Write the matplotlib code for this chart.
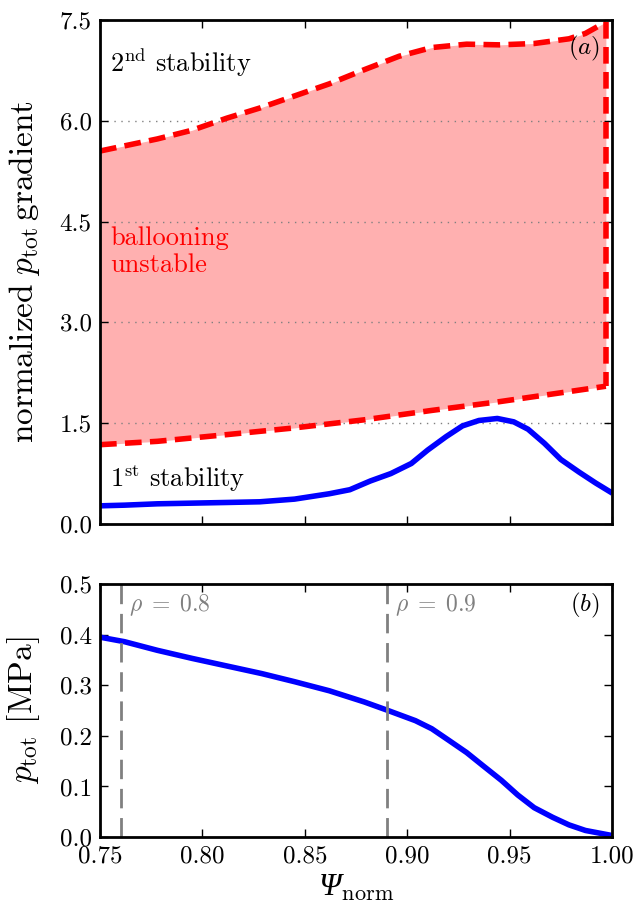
import numpy as np
import matplotlib
matplotlib.use("Agg")
import matplotlib.pyplot as plt
from matplotlib.ticker import FormatStrFormatter

plt.rcParams['font.family'] = ['cmr10', 'DejaVu Serif']
plt.rcParams['mathtext.fontset'] = 'cm'
plt.rcParams['axes.formatter.use_mathtext'] = True
plt.rcParams['axes.unicode_minus'] = False

# upper boundary of the ballooning unstable region
psi_up = [0.750, 0.778, 0.795, 0.812, 0.828, 0.845, 0.862, 0.879, 0.896,
          0.912, 0.929, 0.945, 0.962, 0.979, 0.987, 0.997]
grad_up = [5.55, 5.73, 5.86, 6.04, 6.19, 6.37, 6.55, 6.76, 6.96,
           7.09, 7.14, 7.13, 7.15, 7.22, 7.30, 7.47]

# lower boundary of the ballooning unstable region
psi_lo = [0.750, 0.778, 0.812, 0.845, 0.879, 0.912, 0.945, 0.979, 0.997]
grad_lo = [1.18, 1.23, 1.33, 1.43, 1.55, 1.69, 1.82, 1.97, 2.05]

# actual normalized pressure gradient
psi_g = [0.750, 0.762, 0.778, 0.795, 0.812, 0.828, 0.845, 0.862, 0.872,
         0.882, 0.892, 0.902, 0.910, 0.919, 0.927, 0.935, 0.944, 0.952,
         0.959, 0.967, 0.975, 0.984, 0.992, 0.999]
grad = [0.27, 0.28, 0.30, 0.31, 0.32, 0.33, 0.37, 0.45, 0.51,
        0.64, 0.75, 0.90, 1.10, 1.30, 1.46, 1.54, 1.57, 1.52,
        1.41, 1.20, 0.96, 0.77, 0.61, 0.48]

# total pressure profile
psi_p = [0.750, 0.762, 0.778, 0.795, 0.812, 0.829, 0.845, 0.862, 0.879,
         0.890, 0.904, 0.912, 0.920, 0.929, 0.937, 0.946, 0.954, 0.962,
         0.971, 0.979, 0.987, 1.000]
p_tot = [0.395, 0.386, 0.369, 0.353, 0.338, 0.323, 0.307, 0.289, 0.267,
         0.251, 0.230, 0.214, 0.192, 0.167, 0.141, 0.112, 0.083, 0.058,
         0.039, 0.024, 0.013, 0.003]

rho_psi = [0.760, 0.890]
rho_lab = [r'$\rho\;=\;0.8$', r'$\rho\;=\;0.9$']

fig = plt.figure(figsize=(6.42, 9.17), dpi=100)
ax1 = fig.add_axes([0.1558, 0.4286, 0.7975, 0.5496])
ax2 = fig.add_axes([0.1558, 0.0872, 0.7975, 0.2759])

for ax in (ax1, ax2):
    ax.tick_params(direction='in', top=True, right=True, length=6, width=1,
                   labelsize=18, pad=6)
    for s in ax.spines.values():
        s.set_linewidth(2)

# panel (a)
lo_on_up = np.interp(psi_up, psi_lo, grad_lo)
ax1.fill_between(psi_up, lo_on_up, grad_up, color='#ffb0b0', lw=0)
ax1.plot(psi_up, grad_up, color='red', lw=4, dashes=(3, 1.5))
ax1.plot(psi_lo, grad_lo, color='red', lw=4, dashes=(3, 1.5))
ax1.plot([psi_up[-1], psi_lo[-1]], [grad_up[-1], grad_lo[-1]], color='red',
         lw=4, dashes=(3, 1.5))
ax1.plot(psi_g, grad, color='blue', lw=4)
for yv in [1.5, 3.0, 4.5, 6.0, 7.5]:
    ax1.axhline(yv, color='gray', ls=(0, (1, 4)), lw=1, zorder=1.5)
ax1.set_xlim(0.75, 1.0)
ax1.set_ylim(0, 7.5)
ax1.set_yticks([0.0, 1.5, 3.0, 4.5, 6.0, 7.5])
ax1.set_xticks([0.75, 0.80, 0.85, 0.90, 0.95, 1.00])
ax1.yaxis.set_major_formatter(FormatStrFormatter('%.1f'))
ax1.tick_params(labelbottom=False)
ax1.set_ylabel(r'$\mathrm{normalized}\ p_{\rm tot}\,\mathrm{gradient}$',
               fontsize=24)
ax1.yaxis.set_label_coords(-0.113, 0.5)
ax1.text(0.755, 6.73, r'2$^{\rm nd}$ stability', fontsize=19)
ax1.text(0.755, 4.15, 'ballooning', fontsize=19, color='red')
ax1.text(0.755, 3.75, 'unstable', fontsize=19, color='red')
ax1.text(0.755, 0.55, r'1$^{\rm st}$ stability', fontsize=19)
ax1.text(0.994, 6.98, r'$(a)$', fontsize=18, ha='right')

# panel (b)
ax2.plot(psi_p, p_tot, color='blue', lw=4)
for xv, lab in zip(rho_psi, rho_lab):
    ax2.axvline(xv, color='gray', lw=2, dashes=(7, 3.5))
    ax2.text(xv + 0.004, 0.446, lab, color='gray', fontsize=17)
ax2.set_xlim(0.75, 1.0)
ax2.set_ylim(0, 0.5)
ax2.set_xticks([0.75, 0.80, 0.85, 0.90, 0.95, 1.00])
ax2.set_yticks([0.0, 0.1, 0.2, 0.3, 0.4, 0.5])
ax2.xaxis.set_major_formatter(FormatStrFormatter('%.2f'))
ax2.yaxis.set_major_formatter(FormatStrFormatter('%.1f'))
ax2.text(0.994, 0.446, r'$(b)$', fontsize=18, ha='right')
ax2.set_ylabel(r'$p_{\rm tot}$ [MPa]', fontsize=24)
ax2.yaxis.set_label_coords(-0.113, 0.5)
ax2.set_xlabel('Ψ$_{\\mathrm{norm}}$', fontsize=23, labelpad=4,
               family=['Liberation Serif'], style='italic')

fig.savefig('out.png', dpi=100)
